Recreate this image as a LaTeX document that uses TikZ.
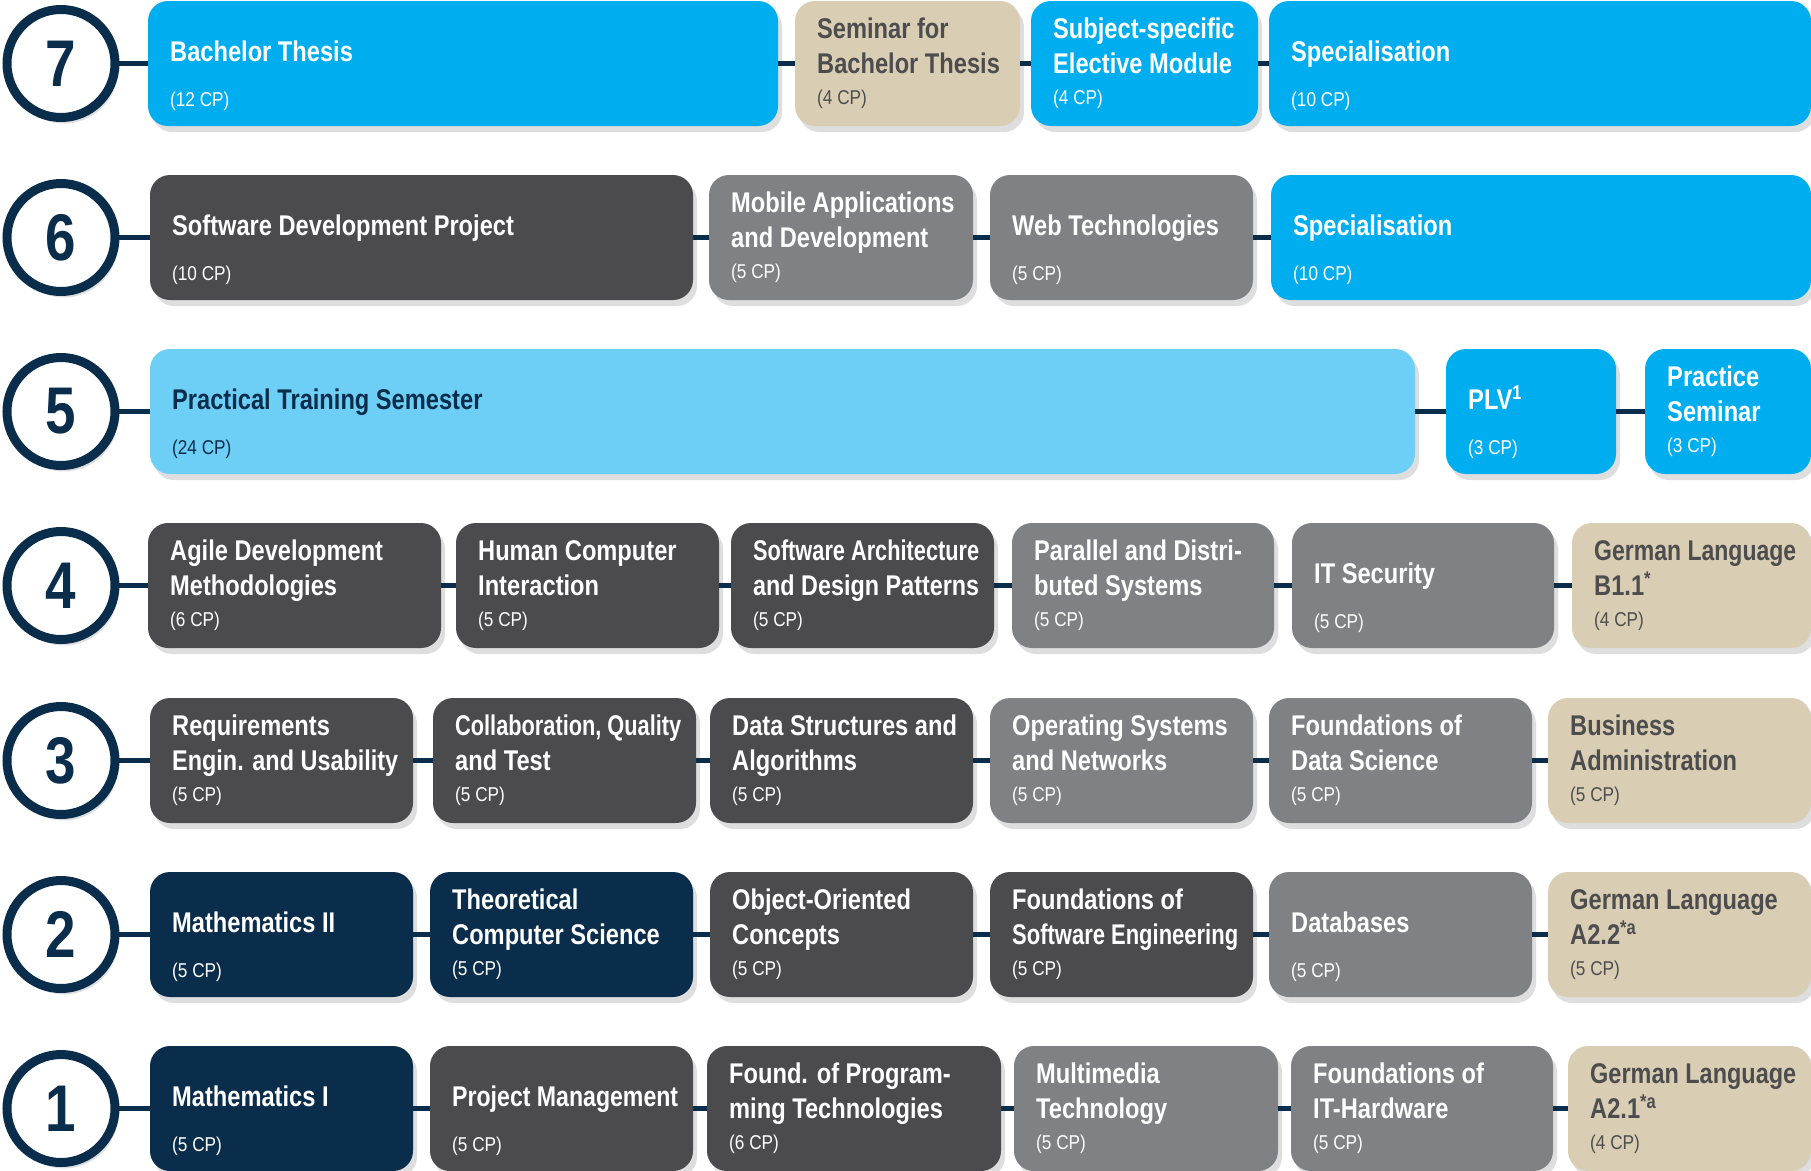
\documentclass[tikz,border=0pt]{standalone}
\usepackage{fontspec}
\usepackage{graphicx}
\usetikzlibrary{shadows}
\newfontfamily\tfont[FakeStretch=0.83]{Liberation Sans}
\newfontfamily\cfont[FakeStretch=0.86]{Liberation Sans}
\definecolor{cblue}{HTML}{00AEEF}
\definecolor{clblue}{HTML}{6DCFF6}
\definecolor{cdgrey}{HTML}{4B4B4D}
\definecolor{cmgrey}{HTML}{808184}
\definecolor{cbeige}{HTML}{D9CEB3}
\definecolor{cnavy}{HTML}{0B2D4C}
\definecolor{cbtext}{HTML}{4D4D4F}
\newsavebox\fitbox
\newlength\fitlen
\newcommand\fitw[2]{\setlength\fitlen{#1}\sbox\fitbox{#2}\ifdim\wd\fitbox>\fitlen\resizebox{\fitlen}{\height}{\usebox\fitbox}\else\usebox\fitbox\fi}
\tikzset{
  modbox/.style={fill=#1, rounded corners=20pt, minimum height=125pt, inner sep=0pt, outer sep=0pt, anchor=north west,
    drop shadow={shadow xshift=4pt, shadow yshift=-6pt, fill=black!13, opacity=1}},
  ttl/.style={anchor=base west, inner sep=0pt, text=#1, font=\tfont\bfseries\fontsize{28.5}{30}\selectfont},
  cpt/.style={anchor=base west, inner sep=0pt, text=#1, font=\cfont\fontsize{20}{22}\selectfont},
  sem/.style={circle, draw=cnavy, line width=9pt, fill=white, minimum size=108pt, inner sep=0pt, outer sep=0pt,
    text=cnavy, font=\tfont\bfseries\fontsize{66}{66}\selectfont,
    drop shadow={shadow xshift=3pt, shadow yshift=-6pt, fill=black!13, opacity=1}},
  conn/.style={draw=cnavy, line width=5pt},
}
\newcommand\mA[8]{%
  \node[modbox=#5, minimum width=#3pt] (#1) at (#2,#4) {};
  \node[ttl=#6] (#1t) at (#2+22,#4+60) {\fitw{\dimexpr#3pt-37pt\relax}{#7}};
  \node[cpt=#6] (#1c) at (#2+22,#4+105) {#8};
}
\newcommand\mB[9]{%
  \node[modbox=#5, minimum width=#3pt] (#1) at (#2,#4) {};
  \node[ttl=#6] (#1t) at (#2+22,#4+37) {\fitw{\dimexpr#3pt-37pt\relax}{#7}};
  \node[ttl=#6] (#1u) at (#2+22,#4+72) {\fitw{\dimexpr#3pt-37pt\relax}{#8}};
  \node[cpt=#6] (#1c) at (#2+22,#4+103) {#9};
}
\begin{document}
\begin{tikzpicture}[x=1pt,y=-1pt]
\fill[white] (0,0) rectangle (1811,1170);
\useasboundingbox (0,0) rectangle (1811,1170);
% semester 7
\node[sem] (s7) at (61,63.5) {7};
\mA{r7a}{148}{630}{1}{cblue}{white}{Bachelor Thesis}{(12 CP)}
\mB{r7b}{795}{225}{1}{cbeige}{cbtext}{Seminar for}{Bachelor Thesis}{(4 CP)}
\mB{r7c}{1031}{227}{1}{cblue}{white}{Subject-specific}{Elective Module}{(4 CP)}
\mA{r7d}{1269}{542}{1}{cblue}{white}{Specialisation}{(10 CP)}
\draw[conn] (s7) -- (r7a);
\draw[conn] (r7a) -- (r7b);
\draw[conn] (r7b) -- (r7c);
\draw[conn] (r7c) -- (r7d);
% semester 6
\node[sem] (s6) at (61,237.5) {6};
\mA{r6a}{150}{543}{175}{cdgrey}{white}{Software Development Project}{(10 CP)}
\mB{r6b}{709}{264}{175}{cmgrey}{white}{Mobile Applications}{and Development}{(5 CP)}
\mA{r6c}{990}{263}{175}{cmgrey}{white}{Web Technologies}{(5 CP)}
\mA{r6d}{1271}{540}{175}{cblue}{white}{Specialisation}{(10 CP)}
\draw[conn] (s6) -- (r6a);
\draw[conn] (r6a) -- (r6b);
\draw[conn] (r6b) -- (r6c);
\draw[conn] (r6c) -- (r6d);
% semester 5
\node[sem] (s5) at (61,411.5) {5};
\mA{r5a}{150}{1265}{349}{clblue}{cnavy}{Practical Training Semester}{(24 CP)}
\mA{r5b}{1446}{170}{349}{cblue}{white}{PLV\textsuperscript{1}}{(3 CP)}
\mB{r5c}{1645}{166}{349}{cblue}{white}{Practice}{Seminar}{(3 CP)}
\draw[conn] (s5) -- (r5a);
\draw[conn] (r5a) -- (r5b);
\draw[conn] (r5b) -- (r5c);
% semester 4
\node[sem] (s4) at (61,585.5) {4};
\mB{r4a}{148}{293}{523}{cdgrey}{white}{Agile Development}{Methodologies}{(6 CP)}
\mB{r4b}{456}{263}{523}{cdgrey}{white}{Human Computer}{Interaction}{(5 CP)}
\mB{r4c}{731}{263}{523}{cdgrey}{white}{Software Architecture}{and Design Patterns}{(5 CP)}
\mB{r4d}{1012}{262}{523}{cmgrey}{white}{Parallel and Distri-}{buted Systems}{(5 CP)}
\mA{r4e}{1292}{262}{523}{cmgrey}{white}{IT Security}{(5 CP)}
\mB{r4f}{1572}{239}{523}{cbeige}{cbtext}{German Language}{B1.1\textsuperscript{*}}{(4 CP)}
\draw[conn] (s4) -- (r4a);
\draw[conn] (r4a) -- (r4b);
\draw[conn] (r4b) -- (r4c);
\draw[conn] (r4c) -- (r4d);
\draw[conn] (r4d) -- (r4e);
\draw[conn] (r4e) -- (r4f);
% semester 3
\node[sem] (s3) at (61,760.5) {3};
\mB{r3a}{150}{263}{698}{cdgrey}{white}{Requirements}{Engin. and Usability}{(5 CP)}
\mB{r3b}{433}{263}{698}{cdgrey}{white}{Collaboration, Quality}{and Test}{(5 CP)}
\mB{r3c}{710}{263}{698}{cdgrey}{white}{Data Structures and}{Algorithms}{(5 CP)}
\mB{r3d}{990}{263}{698}{cmgrey}{white}{Operating Systems}{and Networks}{(5 CP)}
\mB{r3e}{1269}{263}{698}{cmgrey}{white}{Foundations of}{Data Science}{(5 CP)}
\mB{r3f}{1548}{263}{698}{cbeige}{cbtext}{Business}{Administration}{(5 CP)}
\draw[conn] (s3) -- (r3a);
\draw[conn] (r3a) -- (r3b);
\draw[conn] (r3b) -- (r3c);
\draw[conn] (r3c) -- (r3d);
\draw[conn] (r3d) -- (r3e);
\draw[conn] (r3e) -- (r3f);
% semester 2
\node[sem] (s2) at (61,934.5) {2};
\mA{r2a}{150}{263}{872}{cnavy}{white}{Mathematics II}{(5 CP)}
\mB{r2b}{430}{263}{872}{cnavy}{white}{Theoretical}{Computer Science}{(5 CP)}
\mB{r2c}{710}{263}{872}{cdgrey}{white}{Object-Oriented}{Concepts}{(5 CP)}
\mB{r2d}{990}{263}{872}{cdgrey}{white}{Foundations of}{Software Engineering}{(5 CP)}
\mA{r2e}{1269}{263}{872}{cmgrey}{white}{Databases}{(5 CP)}
\mB{r2f}{1548}{263}{872}{cbeige}{cbtext}{German Language}{A2.2\textsuperscript{*a}}{(5 CP)}
\draw[conn] (s2) -- (r2a);
\draw[conn] (r2a) -- (r2b);
\draw[conn] (r2b) -- (r2c);
\draw[conn] (r2c) -- (r2d);
\draw[conn] (r2d) -- (r2e);
\draw[conn] (r2e) -- (r2f);
% semester 1
\node[sem] (s1) at (61,1108.5) {1};
\mA{r1a}{150}{263}{1046}{cnavy}{white}{Mathematics I}{(5 CP)}
\mA{r1b}{430}{263}{1046}{cdgrey}{white}{Project Management}{(5 CP)}
\mB{r1c}{707}{294}{1046}{cdgrey}{white}{Found. of Program-}{ming Technologies}{(6 CP)}
\mB{r1d}{1014}{264}{1046}{cmgrey}{white}{Multimedia}{Technology}{(5 CP)}
\mB{r1e}{1291}{262}{1046}{cmgrey}{white}{Foundations of}{IT-Hardware}{(5 CP)}
\mB{r1f}{1568}{243}{1046}{cbeige}{cbtext}{German Language}{A2.1\textsuperscript{*a}}{(4 CP)}
\draw[conn] (s1) -- (r1a);
\draw[conn] (r1a) -- (r1b);
\draw[conn] (r1b) -- (r1c);
\draw[conn] (r1c) -- (r1d);
\draw[conn] (r1d) -- (r1e);
\draw[conn] (r1e) -- (r1f);
\end{tikzpicture}
\end{document}
